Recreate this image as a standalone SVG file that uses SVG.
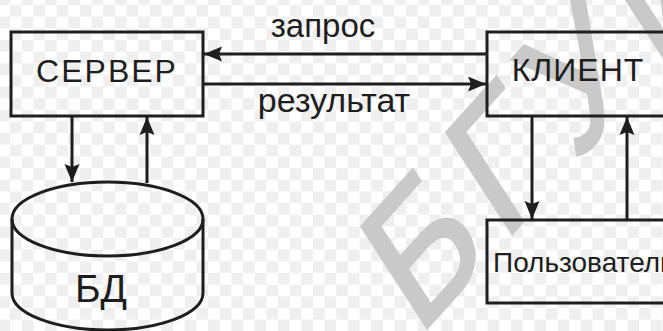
<svg xmlns="http://www.w3.org/2000/svg" width="663" height="331" viewBox="0 0 663 331">
<defs>
<pattern id="checker" x="10" y="5" width="23.3" height="23.3" patternUnits="userSpaceOnUse">
<rect x="0" y="0" width="11.65" height="11.65" fill="#efefef"/>
<rect x="11.65" y="11.65" width="11.65" height="11.65" fill="#efefef"/>
</pattern>
<marker id="arr" viewBox="0 0 18 16" refX="18" refY="8" markerWidth="18" markerHeight="16" markerUnits="userSpaceOnUse" orient="auto">
<path d="M0,0.5 L18,8 L0,15.5 L3,8 Z" fill="#1e1e1e"/>
</marker>
<style>
.box{fill:none;stroke:#1e1e1e;stroke-width:3}
.ln{fill:none;stroke:#1e1e1e;stroke-width:3;marker-end:url(#arr)}
.t{font-family:"Liberation Sans",Arial,sans-serif;fill:#1e1e1e}
.wm{font-family:"Liberation Sans",Arial,sans-serif;fill:#c9c9c9;stroke:#c9c9c9;stroke-width:3}
</style>
</defs>
<rect width="663" height="331" fill="#fff"/>
<rect width="663" height="331" fill="url(#checker)"/>
<text class="wm" x="0" y="0" font-size="169" letter-spacing="16" transform="translate(418,338) rotate(-48) skewX(-15)">БГУИР</text>
<g id="server">
<rect class="box" x="11" y="32" width="192" height="84"/>
<text class="t" x="107" y="82" font-size="32" letter-spacing="2" text-anchor="middle">СЕРВЕР</text>
</g>
<g id="client">
<rect class="box" x="487" y="32" width="190" height="84"/>
<text class="t" x="578" y="81" font-size="32" letter-spacing="1" text-anchor="middle">КЛИЕНТ</text>
</g>
<g id="db">
<path class="box" d="M12,219 L12,293 A95.5,37 0 0 0 203,293 L203,219"/>
<ellipse class="box" cx="107.5" cy="219" rx="95.5" ry="37"/>
<text class="t" x="101" y="302" font-size="39" text-anchor="middle">БД</text>
</g>
<g id="user">
<rect class="box" x="487" y="220" width="190" height="83"/>
<text class="t" x="493" y="272" font-size="28">Пользователь</text>
</g>
<g id="connectors">
<line class="ln" x1="487" y1="54" x2="204" y2="54"/>
<line class="ln" x1="203" y1="84" x2="486" y2="84"/>
<line class="ln" x1="72" y1="116" x2="72" y2="182"/>
<line class="ln" x1="147" y1="183" x2="147" y2="117"/>
<line class="ln" x1="532" y1="116" x2="532" y2="219"/>
<line class="ln" x1="627" y1="220" x2="627" y2="117"/>
<text class="t" x="323" y="37" font-size="33" text-anchor="middle">запрос</text>
<text class="t" x="334" y="112" font-size="34" text-anchor="middle">результат</text>
</g>
</svg>
